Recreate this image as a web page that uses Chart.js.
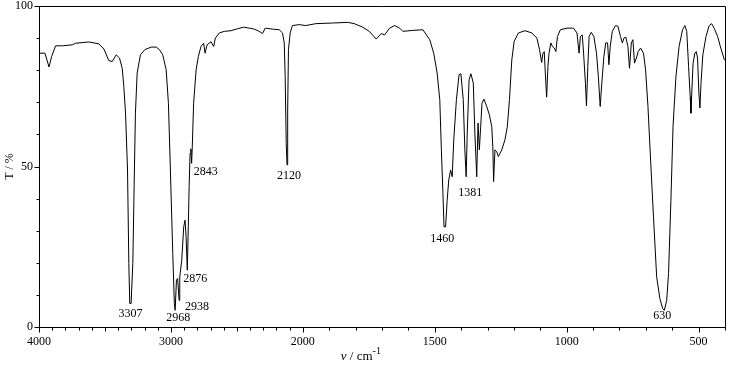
<!DOCTYPE html>
<html>
<head>
<meta charset="utf-8">
<script src="https://cdn.jsdelivr.net/npm/chart.js@4"></script>
<style>
  html, body { margin: 0; padding: 0; background: #fff; }
  #wrap { width: 733px; height: 366px; }
</style>
</head>
<body>
<div id="wrap"><canvas id="ir"></canvas></div>
<script>
// IR spectrum, wavenumber (cm-1) vs transmittance (%)
const wavenumbers = [
  4000, 3955, 3924, 3904, 3874, 3823, 3747, 3722, 3622, 3546,
  3508, 3471, 3445, 3415, 3390, 3369, 3357, 3344, 3329, 3319,
  3312, 3302, 3289, 3278, 3269, 3256, 3231, 3198, 3150, 3112,
  3087, 3062, 3036, 3019, 3004, 2986, 2974, 2968, 2958, 2949,
  2938, 2933, 2918, 2903, 2893, 2885, 2876, 2870, 2862, 2855,
  2849, 2843, 2838, 2828, 2809, 2792, 2772, 2752, 2741, 2726,
  2696, 2676, 2663, 2633, 2595, 2545, 2495, 2449, 2406, 2368,
  2331, 2306, 2285, 2230, 2179, 2154, 2141, 2134, 2126, 2120,
  2115, 2109, 2096, 2079, 2028, 1989, 1951, 1887, 1830, 1805,
  1773, 1748, 1722, 1703, 1690, 1671, 1652, 1633, 1621, 1583,
  1545, 1519, 1504, 1491, 1481, 1475, 1469, 1465, 1459, 1453,
  1447, 1440, 1434, 1428, 1418, 1408, 1401, 1392, 1386, 1381,
  1377, 1370, 1363, 1354, 1348, 1341, 1336, 1331, 1326, 1321,
  1314, 1303, 1293, 1284, 1280, 1277, 1272, 1265, 1259, 1246,
  1234, 1225, 1217, 1208, 1199, 1183, 1158, 1132, 1113, 1103,
  1095, 1090, 1085, 1081, 1076, 1071, 1067, 1060, 1054, 1047,
  1041, 1035, 1024, 999, 974, 961, 953, 948, 941, 936,
  929, 925, 920, 915, 907, 897, 887, 880, 873, 867,
  859, 852, 845, 840, 835, 827, 815, 806, 796, 789,
  783, 776, 768, 762, 755, 749, 743, 736, 729, 720,
  709, 701, 692, 682, 671, 659, 647, 636, 630, 621,
  614, 605, 597, 586, 574, 561, 552, 545, 538, 532,
  529, 526, 521, 514, 509, 504, 499, 495, 491, 484,
  472, 460, 451, 441, 428, 416, 403, 400
];
const transmittance = [
  85.3, 85.3, 81.0, 84.3, 87.6, 87.6, 87.9, 88.4, 88.8, 88.2,
  86.6, 83.0, 82.7, 84.8, 83.8, 80.6, 74.9, 66.6, 48.9, 19.8,
  7.3, 7.3, 19.8, 45.8, 66.6, 79.1, 84.8, 86.4, 87.2, 87.2,
  86.4, 84.8, 80.1, 69.7, 48.9, 22.9, 7.3, 5.2, 14.6, 15.1,
  8.3, 15.6, 20.8, 31.2, 33.3, 28.1, 17.7, 28.1, 43.7, 54.1,
  55.5, 51.0, 56.2, 69.7, 80.1, 84.3, 87.4, 88.4, 85.3, 87.9,
  88.9, 87.4, 90.0, 91.6, 92.1, 92.3, 92.9, 93.4, 93.1, 92.8,
  92.1, 91.4, 93.1, 92.8, 92.6, 91.6, 88.5, 78.0, 57.2, 50.5,
  67.6, 86.4, 91.6, 93.9, 94.2, 93.9, 94.5, 94.7, 94.9, 94.5,
  93.4, 92.1, 89.7, 91.4, 91.0, 93.1, 93.9, 93.1, 92.1, 92.4,
  92.6, 89.5, 85.3, 79.1, 70.8, 55.2, 41.6, 31.2, 31.2, 39.5,
  45.8, 48.9, 46.8, 58.3, 70.8, 78.6, 78.9, 70.8, 55.2, 46.8,
  60.4, 77.0, 78.9, 76.0, 60.4, 46.8, 63.5, 55.2, 62.4, 69.7,
  71.0, 68.7, 66.1, 62.4, 56.2, 45.3, 55.2, 54.6, 53.1, 55.2,
  58.3, 62.4, 70.8, 83.2, 89.0, 91.6, 92.3, 91.6, 90.0, 86.4,
  82.4, 85.3, 85.8, 79.1, 71.6, 81.2, 85.3, 88.5, 87.4, 86.9,
  85.8, 90.5, 92.6, 93.1, 93.1, 91.6, 85.3, 90.5, 91.0, 85.3,
  75.9, 68.9, 81.2, 90.5, 91.8, 90.5, 85.3, 78.0, 68.7, 75.9,
  84.3, 88.5, 88.5, 81.7, 87.4, 92.1, 93.9, 93.7, 90.5, 88.5,
  90.0, 90.3, 87.4, 80.6, 88.5, 89.5, 82.2, 83.8, 85.8, 86.9,
  85.3, 80.1, 68.7, 52.0, 34.3, 15.6, 8.9, 5.7, 5.2, 8.3,
  16.7, 39.5, 62.4, 78.0, 87.4, 92.6, 93.9, 92.1, 81.2, 71.8,
  66.6, 72.9, 82.2, 85.3, 85.8, 83.8, 72.9, 68.2, 75.9, 84.8,
  90.5, 93.9, 94.5, 93.1, 90.5, 86.9, 83.4, 83.0
];

const xTickLabels = [4000, 3000, 2000, 1500, 1000, 500];
const yTickLabels = [0, 50, 100];

// labelled peaks
const peakWn = [3307, 2968, 2938, 2876, 2843, 2120, 1460, 1381, 630];
const peakT = [7.3, 5.2, 8.3, 17.7, 51.0, 50.5, 31.2, 46.8, 5.2];
// label offset from the peak tip, px
const peakDx = [0, 3, 18, 8, 14, 2, -3, 4, -2];
const peakDy = [10, 8, 6, 9, 9, 11, 12, 16, 6];

// the axis is compressed 2:1 above 2000 cm-1
const toAxis = (w) => w >= 2000 ? (4000 - w) / 2 : 1000 + (2000 - w);
const fromAxis = (p) => p <= 1000 ? 4000 - 2 * p : 2000 - (p - 1000);

const FONT = "'Liberation Serif', 'Times New Roman', serif";

const frame = {
  id: "frame",
  afterDraw(chart) {
    const { ctx, chartArea: a, scales: { x, y } } = chart;
    const top = Math.round(a.top) + 0.5;
    const right = Math.round(a.right) + 0.5;
    const bottom = Math.round(a.bottom) + 0.5;
    const left = Math.round(a.left) + 0.5;
    ctx.save();
    ctx.strokeStyle = "#000";
    ctx.lineWidth = 1;
    ctx.beginPath();
    ctx.moveTo(left, top);
    ctx.lineTo(right, top);
    ctx.lineTo(right, bottom);
    for (let w = 4000; w >= 400; w -= 100) {
      const px = Math.round(x.getPixelForValue(toAxis(w))) + 0.5;
      const len = xTickLabels.includes(w) ? 5 : (w === 3500 || w === 2500 ? 4 : 3);
      ctx.moveTo(px, bottom);
      ctx.lineTo(px, bottom + len);
    }
    for (let v = 0; v <= 100; v += 10) {
      const py = Math.round(y.getPixelForValue(v)) + 0.5;
      const len = v % 50 === 0 ? 5 : 3;
      ctx.moveTo(left - len, py);
      ctx.lineTo(left, py);
    }
    ctx.stroke();

    ctx.fillStyle = "#000";
    ctx.font = "12px " + FONT;
    ctx.textAlign = "center";
    ctx.textBaseline = "middle";
    peakWn.forEach((w, i) => {
      const px = x.getPixelForValue(toAxis(w)) + peakDx[i];
      const py = y.getPixelForValue(peakT[i]) + peakDy[i];
      ctx.fillText(String(w), px, py);
    });

    // x title: nu / cm^-1
    ctx.textAlign = "left";
    ctx.textBaseline = "alphabetic";
    let tx = a.left + 0.44 * (a.right - a.left);
    const ty = 360;
    ctx.font = "italic 13px " + FONT;
    ctx.fillText("ν", tx, ty);
    tx += ctx.measureText("ν").width;
    ctx.font = "13px " + FONT;
    ctx.fillText(" / cm", tx, ty);
    tx += ctx.measureText(" / cm").width;
    ctx.font = "10px " + FONT;
    ctx.fillText("-1", tx, ty - 6);

    // y title
    ctx.font = "12px " + FONT;
    ctx.translate(10, (a.top + a.bottom) / 2);
    ctx.rotate(-Math.PI / 2);
    ctx.textAlign = "center";
    ctx.textBaseline = "middle";
    ctx.fillText("T / %", 0, 0);
    ctx.restore();
  }
};

new Chart(document.getElementById("ir"), {
  type: "line",
  data: {
    datasets: [{
      data: wavenumbers.map((w, i) => ({ x: toAxis(w), y: transmittance[i] })),
      borderColor: "#000",
      borderWidth: 1,
      pointRadius: 0,
      tension: 0,
      fill: false,
    }]
  },
  options: {
    responsive: true,
    maintainAspectRatio: false,
    animation: false,
    layout: { padding: { top: 6, right: 8, left: 0, bottom: 0 } },
    plugins: { legend: { display: false }, tooltip: { enabled: false } },
    scales: {
      x: {
        type: "linear",
        min: 0,
        max: 2600,
        afterBuildTicks: (s) => { s.ticks = xTickLabels.map(w => ({ value: toAxis(w) })); },
        afterFit: (s) => { s.height = 39; s.paddingLeft = 0; s.paddingRight = 0; },
        ticks: {
          autoSkip: false,
          maxRotation: 0,
          padding: 8,
          color: "#000",
          font: { family: FONT, size: 12 },
          callback: (v) => String(fromAxis(v)),
        },
        grid: { display: false, drawTicks: false },
        border: { display: true, color: "#000", width: 1 },
      },
      y: {
        min: 0,
        max: 100,
        afterBuildTicks: (s) => { s.ticks = yTickLabels.map(v => ({ value: v })); },
        afterFit: (s) => { s.width = 39; s.paddingTop = 0; s.paddingBottom = 0; },
        ticks: {
          padding: 6,
          color: "#000",
          font: { family: FONT, size: 12, lineHeight: 1 },
        },
        grid: { display: false, drawTicks: false },
        border: { display: true, color: "#000", width: 1 },
      }
    }
  },
  plugins: [frame]
});
</script>
</body>
</html>
